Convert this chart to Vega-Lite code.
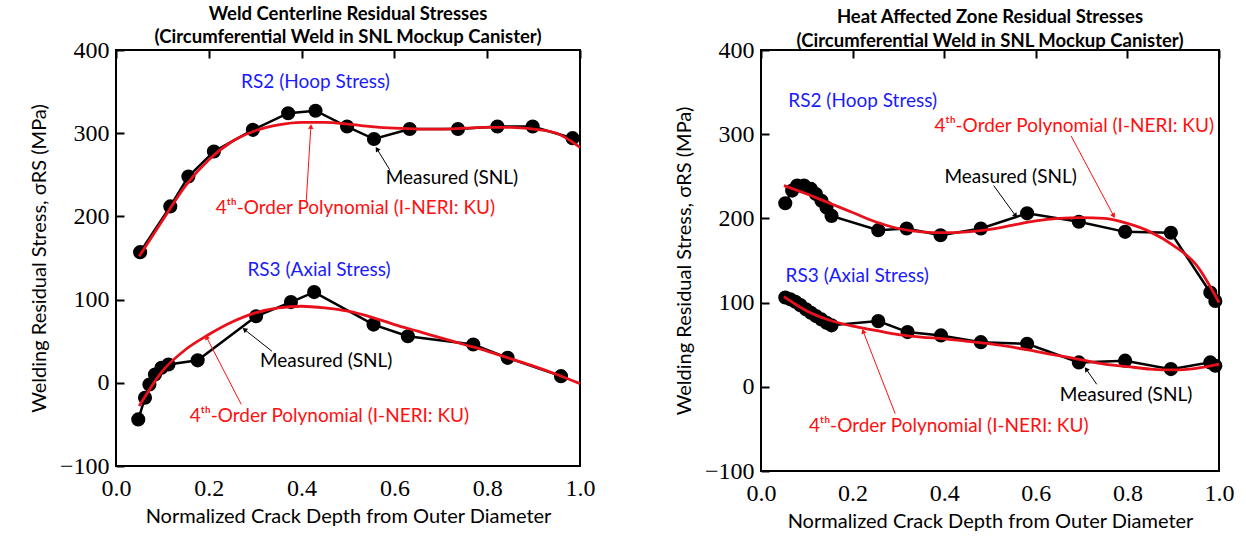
{
  "$schema": "https://vega.github.io/schema/vega-lite/v6.json",
  "background": "white",
  "padding": {"left": 28, "top": 3, "right": 5, "bottom": 3},
  "config": {
    "view": {"stroke": "black", "strokeWidth": 2},
    "axis": {
      "domain": false, "ticks": false, "tickSize": 0, "minExtent": 0, "zindex": 2,
      "grid": true, "gridColor": "#000000", "gridOpacity": 1, "gridWidth": 2,
      "labelColor": "black", "titleColor": "black", "labelFont": "Liberation Serif", "labelFontSize": 24,
      "titleFont": "Lato", "titleFontSize": 20, "titleFontWeight": "normal",
      "labelFlush": false, "labelOverlap": false
    },
    "title": {"font": "Lato", "fontSize": 18.5, "fontWeight": "bold", "color": "black", "anchor": "middle"}
  },
  "datasets": {
    "wc_meas": [
      {"x": 0.052, "y": 157, "s": "RS2"}, {"x": 0.117, "y": 212, "s": "RS2"}, {"x": 0.156, "y": 248, "s": "RS2"},
      {"x": 0.211, "y": 278, "s": "RS2"}, {"x": 0.295, "y": 304, "s": "RS2"}, {"x": 0.371, "y": 324, "s": "RS2"},
      {"x": 0.43, "y": 327, "s": "RS2"}, {"x": 0.498, "y": 308, "s": "RS2"}, {"x": 0.556, "y": 293, "s": "RS2"},
      {"x": 0.633, "y": 305, "s": "RS2"}, {"x": 0.737, "y": 305, "s": "RS2"}, {"x": 0.822, "y": 308, "s": "RS2"},
      {"x": 0.898, "y": 308, "s": "RS2"}, {"x": 0.984, "y": 294, "s": "RS2"},
      {"x": 0.048, "y": -44, "s": "RS3"}, {"x": 0.0625, "y": -18, "s": "RS3"}, {"x": 0.072, "y": -2, "s": "RS3"},
      {"x": 0.084, "y": 10, "s": "RS3"}, {"x": 0.098, "y": 18, "s": "RS3"}, {"x": 0.113, "y": 22, "s": "RS3"},
      {"x": 0.176, "y": 27, "s": "RS3"}, {"x": 0.302, "y": 80, "s": "RS3"}, {"x": 0.377, "y": 97, "s": "RS3"},
      {"x": 0.427, "y": 109, "s": "RS3"}, {"x": 0.555, "y": 70, "s": "RS3"}, {"x": 0.629, "y": 56, "s": "RS3"},
      {"x": 0.77, "y": 46, "s": "RS3"}, {"x": 0.844, "y": 30, "s": "RS3"}, {"x": 0.959, "y": 8, "s": "RS3"}
    ],
    "wc_fit": [
      {"x": 0.05, "y": 152, "s": "RS2"}, {"x": 0.1, "y": 195, "s": "RS2"}, {"x": 0.15, "y": 237, "s": "RS2"},
      {"x": 0.2, "y": 268, "s": "RS2"}, {"x": 0.25, "y": 290, "s": "RS2"}, {"x": 0.3, "y": 303, "s": "RS2"},
      {"x": 0.35, "y": 310, "s": "RS2"}, {"x": 0.4, "y": 313, "s": "RS2"}, {"x": 0.45, "y": 313, "s": "RS2"},
      {"x": 0.5, "y": 311, "s": "RS2"}, {"x": 0.55, "y": 308, "s": "RS2"}, {"x": 0.6, "y": 306, "s": "RS2"},
      {"x": 0.65, "y": 305, "s": "RS2"}, {"x": 0.7, "y": 305, "s": "RS2"}, {"x": 0.75, "y": 306, "s": "RS2"},
      {"x": 0.8, "y": 307, "s": "RS2"}, {"x": 0.85, "y": 307, "s": "RS2"}, {"x": 0.9, "y": 305, "s": "RS2"},
      {"x": 0.95, "y": 300, "s": "RS2"}, {"x": 1.0, "y": 283, "s": "RS2"},
      {"x": 0.05, "y": -28, "s": "RS3"}, {"x": 0.1, "y": 14, "s": "RS3"}, {"x": 0.15, "y": 40, "s": "RS3"},
      {"x": 0.2, "y": 58, "s": "RS3"}, {"x": 0.25, "y": 73, "s": "RS3"}, {"x": 0.3, "y": 84, "s": "RS3"},
      {"x": 0.35, "y": 90, "s": "RS3"}, {"x": 0.4, "y": 92, "s": "RS3"}, {"x": 0.45, "y": 90, "s": "RS3"},
      {"x": 0.5, "y": 86, "s": "RS3"}, {"x": 0.55, "y": 79, "s": "RS3"}, {"x": 0.6, "y": 70, "s": "RS3"},
      {"x": 0.65, "y": 62, "s": "RS3"}, {"x": 0.7, "y": 54, "s": "RS3"}, {"x": 0.75, "y": 46, "s": "RS3"},
      {"x": 0.8, "y": 38, "s": "RS3"}, {"x": 0.85, "y": 29, "s": "RS3"}, {"x": 0.9, "y": 20, "s": "RS3"},
      {"x": 0.95, "y": 10, "s": "RS3"}, {"x": 1.0, "y": -1, "s": "RS3"}
    ],
    "wc_notes": [
      {"x": 0.43, "y": 361, "text": "RS2 (Hoop Stress)", "kind": "label"},
      {"x": 0.4375, "y": 136, "text": "RS3 (Axial Stress)", "kind": "label"},
      {"x": 0.724, "y": 246, "text": "Measured (SNL)", "kind": "note"},
      {"x": 0.516, "y": 210, "text": "4ᵗʰ-Order Polynomial (I-NERI: KU)", "kind": "poly"},
      {"x": 0.453, "y": 26, "text": "Measured (SNL)", "kind": "note"},
      {"x": 0.46, "y": -40, "text": "4ᵗʰ-Order Polynomial (I-NERI: KU)", "kind": "poly"}
    ],
    "wc_arrows": [
      {"x": 0.59, "y": 256, "x2": 0.5625, "y2": 281, "kind": "note", "dir": 328},
      {"x": 0.41, "y": 218, "x2": 0.42, "y2": 308, "kind": "poly", "dir": 3.5},
      {"x": 0.336, "y": 38, "x2": 0.277, "y2": 64, "kind": "note", "dir": 308},
      {"x": 0.27, "y": -26, "x2": 0.195, "y2": 55, "kind": "poly", "dir": 333}
    ],
    "haz_meas": [
      {"x": 0.053, "y": 218, "s": "RS2"}, {"x": 0.068, "y": 233, "s": "RS2"}, {"x": 0.079, "y": 239, "s": "RS2"},
      {"x": 0.094, "y": 239, "s": "RS2"}, {"x": 0.109, "y": 235, "s": "RS2"}, {"x": 0.12, "y": 229, "s": "RS2"},
      {"x": 0.132, "y": 221, "s": "RS2"}, {"x": 0.143, "y": 213, "s": "RS2"}, {"x": 0.154, "y": 203, "s": "RS2"},
      {"x": 0.256, "y": 186, "s": "RS2"}, {"x": 0.318, "y": 188, "s": "RS2"}, {"x": 0.392, "y": 180, "s": "RS2"},
      {"x": 0.48, "y": 188, "s": "RS2"}, {"x": 0.581, "y": 206, "s": "RS2"}, {"x": 0.694, "y": 196, "s": "RS2"},
      {"x": 0.795, "y": 184, "s": "RS2"}, {"x": 0.895, "y": 183, "s": "RS2"}, {"x": 0.981, "y": 112, "s": "RS2"},
      {"x": 0.992, "y": 102, "s": "RS2"},
      {"x": 0.053, "y": 106, "s": "RS3"}, {"x": 0.064, "y": 104, "s": "RS3"}, {"x": 0.075, "y": 101, "s": "RS3"},
      {"x": 0.086, "y": 97, "s": "RS3"}, {"x": 0.098, "y": 92, "s": "RS3"}, {"x": 0.109, "y": 88, "s": "RS3"},
      {"x": 0.12, "y": 84, "s": "RS3"}, {"x": 0.132, "y": 80, "s": "RS3"}, {"x": 0.143, "y": 76, "s": "RS3"},
      {"x": 0.154, "y": 73, "s": "RS3"}, {"x": 0.256, "y": 78, "s": "RS3"}, {"x": 0.32, "y": 65, "s": "RS3"},
      {"x": 0.393, "y": 61, "s": "RS3"}, {"x": 0.48, "y": 53, "s": "RS3"}, {"x": 0.581, "y": 51, "s": "RS3"},
      {"x": 0.694, "y": 29, "s": "RS3"}, {"x": 0.795, "y": 31, "s": "RS3"}, {"x": 0.895, "y": 21, "s": "RS3"},
      {"x": 0.981, "y": 29, "s": "RS3"}, {"x": 0.992, "y": 25, "s": "RS3"}
    ],
    "haz_fit": [
      {"x": 0.05, "y": 239, "s": "RS2"}, {"x": 0.1, "y": 229, "s": "RS2"}, {"x": 0.15, "y": 218, "s": "RS2"},
      {"x": 0.2, "y": 207, "s": "RS2"}, {"x": 0.25, "y": 196, "s": "RS2"}, {"x": 0.3, "y": 188, "s": "RS2"},
      {"x": 0.35, "y": 184, "s": "RS2"}, {"x": 0.4, "y": 183, "s": "RS2"}, {"x": 0.45, "y": 184, "s": "RS2"},
      {"x": 0.5, "y": 187, "s": "RS2"}, {"x": 0.55, "y": 192, "s": "RS2"}, {"x": 0.6, "y": 197, "s": "RS2"},
      {"x": 0.65, "y": 200, "s": "RS2"}, {"x": 0.7, "y": 201, "s": "RS2"}, {"x": 0.75, "y": 200, "s": "RS2"},
      {"x": 0.8, "y": 194, "s": "RS2"}, {"x": 0.85, "y": 184, "s": "RS2"}, {"x": 0.9, "y": 168, "s": "RS2"},
      {"x": 0.95, "y": 145, "s": "RS2"}, {"x": 1.0, "y": 100, "s": "RS2"},
      {"x": 0.05, "y": 107, "s": "RS3"}, {"x": 0.1, "y": 90, "s": "RS3"}, {"x": 0.15, "y": 79, "s": "RS3"},
      {"x": 0.2, "y": 72, "s": "RS3"}, {"x": 0.25, "y": 67, "s": "RS3"}, {"x": 0.3, "y": 62, "s": "RS3"},
      {"x": 0.35, "y": 59, "s": "RS3"}, {"x": 0.4, "y": 57, "s": "RS3"}, {"x": 0.45, "y": 54, "s": "RS3"},
      {"x": 0.5, "y": 51, "s": "RS3"}, {"x": 0.55, "y": 47, "s": "RS3"}, {"x": 0.6, "y": 42, "s": "RS3"},
      {"x": 0.65, "y": 37, "s": "RS3"}, {"x": 0.7, "y": 32, "s": "RS3"}, {"x": 0.75, "y": 27, "s": "RS3"},
      {"x": 0.8, "y": 24, "s": "RS3"}, {"x": 0.85, "y": 21, "s": "RS3"}, {"x": 0.9, "y": 20, "s": "RS3"},
      {"x": 0.95, "y": 22, "s": "RS3"}, {"x": 1.0, "y": 27, "s": "RS3"}
    ],
    "haz_notes": [
      {"x": 0.222, "y": 340, "text": "RS2 (Hoop Stress)", "kind": "label"},
      {"x": 0.21, "y": 132, "text": "RS3 (Axial Stress)", "kind": "label"},
      {"x": 0.684, "y": 310, "text": "4ᵗʰ-Order Polynomial (I-NERI: KU)", "kind": "poly"},
      {"x": 0.545, "y": 249, "text": "Measured (SNL)", "kind": "note"},
      {"x": 0.797, "y": -10, "text": "Measured (SNL)", "kind": "note"},
      {"x": 0.41, "y": -47, "text": "4ᵗʰ-Order Polynomial (I-NERI: KU)", "kind": "poly"}
    ],
    "haz_arrows": [
      {"x": 0.677, "y": 298, "x2": 0.77, "y2": 203, "kind": "poly", "dir": 152},
      {"x": 0.508, "y": 239, "x2": 0.556, "y2": 203, "kind": "note", "dir": 144},
      {"x": 0.733, "y": 3, "x2": 0.71, "y2": 21, "kind": "note", "dir": 325},
      {"x": 0.293, "y": -32, "x2": 0.223, "y2": 66, "kind": "poly", "dir": 339}
    ]
  },
  "spacing": 77,
  "hconcat": [
    {
      "width": 464, "height": 416,
      "title": {"text": ["Weld Centerline Residual Stresses", "(Circumferential Weld in SNL Mockup Canister)"], "lineHeight": 23, "offset": -8},
      "resolve": {"axis": {"x": "independent", "y": "independent"}},
      "layer": [
        {
          "data": {"name": "wc_meas"},
          "mark": {"type": "line", "color": "black", "strokeWidth": 2.5},
          "encoding": {
            "x": {"field": "x", "type": "quantitative", "scale": {"domain": [0, 1]},
              "axis": {"orient": "bottom", "values": [0, 0.2, 0.4, 0.6, 0.8, 1.0], "format": ".1f", "gridDash": [8, 2000],
                "labelPadding": 10, "title": "Normalized Crack Depth from Outer Diameter", "titlePadding": 6}},
            "y": {"field": "y", "type": "quantitative", "scale": {"domain": [-100, 400]},
              "axis": {"orient": "left", "values": [-100, 0, 100, 200, 300, 400], "format": "d", "gridDash": [8, 2000],
                "labelPadding": 7, "title": "Welding Residual Stress, σRS (MPa)", "titlePadding": 10}},
            "detail": {"field": "s"}
          }
        },
        {
          "data": {"name": "wc_meas"},
          "mark": {"type": "point", "filled": true, "color": "black", "size": 200, "opacity": 1},
          "encoding": {
            "x": {"field": "x", "type": "quantitative",
              "axis": {"orient": "bottom", "values": [0.1, 0.3, 0.5, 0.7, 0.9], "gridDash": [5, 2000], "labels": false, "title": null}},
            "y": {"field": "y", "type": "quantitative",
              "axis": {"orient": "left", "values": [-50, 50, 150, 250, 350], "gridDash": [4, 2000], "labels": false, "title": null}}
          }
        },
        {
          "data": {"name": "wc_fit"},
          "mark": {"type": "line", "color": "#e8101a", "strokeWidth": 2.8, "interpolate": "monotone"},
          "encoding": {
            "x": {"field": "x", "type": "quantitative",
              "axis": {"orient": "top", "values": [0, 0.2, 0.4, 0.6, 0.8, 1.0], "gridDash": [8, 2000], "labels": false, "title": null}},
            "y": {"field": "y", "type": "quantitative",
              "axis": {"orient": "right", "values": [-100, 0, 100, 200, 300, 400], "gridDash": [8, 2000], "labels": false, "title": null}},
            "detail": {"field": "s"}
          }
        },
        {
          "data": {"name": "wc_arrows"},
          "mark": {"type": "rule", "strokeWidth": 1},
          "encoding": {
            "x": {"field": "x", "type": "quantitative",
              "axis": {"orient": "top", "values": [0.1, 0.3, 0.5, 0.7, 0.9], "gridDash": [5, 2000], "labels": false, "title": null}},
            "y": {"field": "y", "type": "quantitative",
              "axis": {"orient": "right", "values": [-50, 50, 150, 250, 350], "gridDash": [4, 2000], "labels": false, "title": null}},
            "x2": {"field": "x2"}, "y2": {"field": "y2"},
            "color": {"field": "kind", "type": "nominal", "scale": {"domain": ["note", "poly", "label"], "range": ["black", "#ff1010", "#1a1aff"]}, "legend": null}
          }
        },
        {
          "data": {"name": "wc_arrows"},
          "mark": {"type": "point", "shape": "triangle-up", "filled": true, "size": 30, "opacity": 1},
          "encoding": {
            "x": {"field": "x2", "type": "quantitative", "axis": null},
            "y": {"field": "y2", "type": "quantitative", "axis": null},
            "angle": {"field": "dir", "type": "quantitative", "scale": null},
            "color": {"field": "kind", "type": "nominal", "legend": null}
          }
        },
        {
          "data": {"name": "wc_notes"},
          "mark": {"type": "text", "font": "Lato", "align": "center", "baseline": "middle"},
          "encoding": {
            "x": {"field": "x", "type": "quantitative", "axis": null},
            "y": {"field": "y", "type": "quantitative", "axis": null},
            "text": {"field": "text"},
            "color": {"field": "kind", "type": "nominal", "legend": null},
            "size": {"field": "kind", "type": "nominal", "scale": {"domain": ["note", "poly", "label"], "range": [19, 19, 22]}, "legend": null}
          }
        }
      ]
    },
    {
      "width": 458, "height": 421,
      "title": {"text": ["Heat Affected Zone Residual Stresses", "(Circumferential Weld in SNL Mockup Canister)"], "lineHeight": 24, "offset": -12},
      "resolve": {"axis": {"x": "independent", "y": "independent"}},
      "layer": [
        {
          "data": {"name": "haz_meas"},
          "mark": {"type": "line", "color": "black", "strokeWidth": 2.5},
          "encoding": {
            "x": {"field": "x", "type": "quantitative", "scale": {"domain": [0, 1]},
              "axis": {"orient": "bottom", "values": [0, 0.2, 0.4, 0.6, 0.8, 1.0], "format": ".1f", "gridDash": [8, 2000],
                "labelPadding": 10, "title": "Normalized Crack Depth from Outer Diameter", "titlePadding": 6}},
            "y": {"field": "y", "type": "quantitative", "scale": {"domain": [-100, 400]},
              "axis": {"orient": "left", "values": [-100, 0, 100, 200, 300, 400], "format": "d", "gridDash": [8, 2000],
                "labelPadding": 7, "title": "Welding Residual Stress, σRS (MPa)", "titlePadding": 10}},
            "detail": {"field": "s"}
          }
        },
        {
          "data": {"name": "haz_meas"},
          "mark": {"type": "point", "filled": true, "color": "black", "size": 200, "opacity": 1},
          "encoding": {
            "x": {"field": "x", "type": "quantitative",
              "axis": {"orient": "bottom", "values": [0.1, 0.3, 0.5, 0.7, 0.9], "gridDash": [5, 2000], "labels": false, "title": null}},
            "y": {"field": "y", "type": "quantitative",
              "axis": {"orient": "left", "values": [-50, 50, 150, 250, 350], "gridDash": [4, 2000], "labels": false, "title": null}}
          }
        },
        {
          "data": {"name": "haz_fit"},
          "mark": {"type": "line", "color": "#e8101a", "strokeWidth": 2.8, "interpolate": "monotone"},
          "encoding": {
            "x": {"field": "x", "type": "quantitative",
              "axis": {"orient": "top", "values": [0, 0.2, 0.4, 0.6, 0.8, 1.0], "gridDash": [8, 2000], "labels": false, "title": null}},
            "y": {"field": "y", "type": "quantitative",
              "axis": {"orient": "right", "values": [-100, 0, 100, 200, 300, 400], "gridDash": [8, 2000], "labels": false, "title": null}},
            "detail": {"field": "s"}
          }
        },
        {
          "data": {"name": "haz_arrows"},
          "mark": {"type": "rule", "strokeWidth": 1},
          "encoding": {
            "x": {"field": "x", "type": "quantitative",
              "axis": {"orient": "top", "values": [0.1, 0.3, 0.5, 0.7, 0.9], "gridDash": [5, 2000], "labels": false, "title": null}},
            "y": {"field": "y", "type": "quantitative",
              "axis": {"orient": "right", "values": [-50, 50, 150, 250, 350], "gridDash": [4, 2000], "labels": false, "title": null}},
            "x2": {"field": "x2"}, "y2": {"field": "y2"},
            "color": {"field": "kind", "type": "nominal", "scale": {"domain": ["note", "poly", "label"], "range": ["black", "#ff1010", "#1a1aff"]}, "legend": null}
          }
        },
        {
          "data": {"name": "haz_arrows"},
          "mark": {"type": "point", "shape": "triangle-up", "filled": true, "size": 30, "opacity": 1},
          "encoding": {
            "x": {"field": "x2", "type": "quantitative", "axis": null},
            "y": {"field": "y2", "type": "quantitative", "axis": null},
            "angle": {"field": "dir", "type": "quantitative", "scale": null},
            "color": {"field": "kind", "type": "nominal", "legend": null}
          }
        },
        {
          "data": {"name": "haz_notes"},
          "mark": {"type": "text", "font": "Lato", "align": "center", "baseline": "middle"},
          "encoding": {
            "x": {"field": "x", "type": "quantitative", "axis": null},
            "y": {"field": "y", "type": "quantitative", "axis": null},
            "text": {"field": "text"},
            "color": {"field": "kind", "type": "nominal", "legend": null},
            "size": {"field": "kind", "type": "nominal", "scale": {"domain": ["note", "poly", "label"], "range": [19, 19, 22]}, "legend": null}
          }
        }
      ]
    }
  ]
}
